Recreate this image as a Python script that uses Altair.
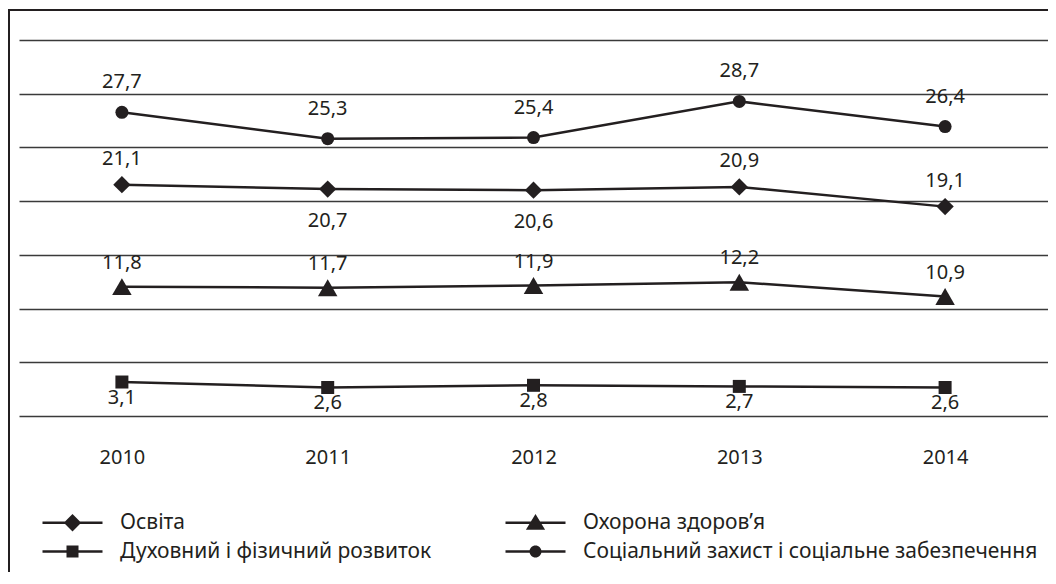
import altair as alt
import pandas as pd

years = [2010, 2011, 2012, 2013, 2014]
series_names = [
    "Освіта",
    "Охорона здоров’я",
    "Духовний і фізичний розвиток",
    "Соціальний захист і соціальне забезпечення",
]
osvita = [21.1, 20.7, 20.6, 20.9, 19.1]
ohorona = [11.8, 11.7, 11.9, 12.2, 10.9]
duhovnyi = [3.1, 2.6, 2.8, 2.7, 2.6]
socialnyi = [27.7, 25.3, 25.4, 28.7, 26.4]

# where each value label sits relative to its point
osvita_side = ["above", "below", "below", "above", "above"]
ohorona_side = ["above"] * 5
duhovnyi_side = ["below"] * 5
socialnyi_side = ["above"] * 5

# hidden value axis: its extent and grid lines
y_domain = [0, 34.3]
grid_values = [0, 4.9, 9.8, 14.7, 19.6, 24.5, 29.4, 34.3]

rows = []
for name, vals, sides in [
    (series_names[0], osvita, osvita_side),
    (series_names[1], ohorona, ohorona_side),
    (series_names[2], duhovnyi, duhovnyi_side),
    (series_names[3], socialnyi, socialnyi_side),
]:
    for yr, v, s in zip(years, vals, sides):
        rows.append({"year": str(yr), "series": name, "value": v, "side": s})
df = pd.DataFrame(rows)

INK = "#231f20"
FONT = "Noto Sans"
W, H = 1029, 376

point_style = {
    series_names[0]: ("diamond", 300),
    series_names[1]: ("triangle-up", 380),
    series_names[2]: ("square", 169),
    series_names[3]: ("circle", 169),
}
# legend glyphs: a short line with the marker in its middle (filled paths),
# drawn at 10 px per path unit
BAR = "M-3,-0.125H3V0.125H-3Z"
legend_paths = [
    BAR + "M0,-0.87L0.87,0L0,0.87L-0.87,0Z",
    BAR + "M0,-0.87L0.96,0.69L-0.96,0.69Z",
    BAR + "M-0.6,-0.6H0.6V0.6H-0.6Z",
    BAR + "M-0.6,0A0.6,0.6,0,1,1,0.6,0A0.6,0.6,0,1,1,-0.6,0Z",
]

base = alt.Chart(df)

x_enc = alt.X(
    "year:O",
    scale=alt.Scale(type="point", padding=0.5),
    axis=alt.Axis(
        title=None, labelAngle=0, domain=False, ticks=False, grid=False,
        labelFont=FONT, labelFontSize=20, labelColor=INK, labelPadding=31,
    ),
)
y_enc = alt.Y(
    "value:Q",
    scale=alt.Scale(domain=y_domain, nice=False, zero=False),
    axis=alt.Axis(
        title=None, labels=False, ticks=False, domain=False, grid=True,
        values=grid_values, gridColor="#3a3a3a", gridWidth=1.4, gridOpacity=1,
    ),
)

lines = base.mark_line(color=INK, strokeWidth=2.5).encode(
    x=x_enc, y=y_enc, detail="series:N"
)

point_layers = []
for name, (shp, sz) in point_style.items():
    point_layers.append(
        base.transform_filter(alt.datum.series == name).mark_point(
            filled=True, color=INK, opacity=1, shape=shp, size=sz
        ).encode(x="year:O", y="value:Q")
    )

legend_layer = base.transform_filter("datum.value < -1000").mark_point(
    filled=True, color=INK, opacity=1
).encode(
    x="year:O",
    y="value:Q",
    shape=alt.Shape(
        "series:N",
        scale=alt.Scale(domain=series_names, range=legend_paths),
        legend=alt.Legend(
            title=None, orient="none", legendX=23, legendY=472,
            direction="horizontal", columns=2, columnPadding=73,
            rowPadding=7, padding=0,
            symbolSize=400, symbolStrokeWidth=0, symbolFillColor=INK,
            symbolOpacity=1, symbolOffset=20,
            labelFont=FONT, labelFontSize=21, labelColor=INK, labelLimit=1000,
            labelOffset=37,
        ),
    ),
)

label_expr = "replace(format(datum.value, '.1f'), '.', ',')"
offsets = {
    (series_names[3], "above"): -30,
    (series_names[0], "above"): -26,
    (series_names[0], "below"): 32,
    (series_names[1], "above"): -24,
    (series_names[2], "below"): 16,
}
text_layers = []
for (name, side), dy in offsets.items():
    text_layers.append(
        base.transform_filter(
            (alt.datum.series == name) & (alt.datum.side == side)
        ).transform_calculate(lbl=label_expr).mark_text(
            font=FONT, fontSize=20, color=INK, dy=dy, baseline="middle"
        ).encode(x="year:O", y="value:Q", text="lbl:N")
    )

top_border = alt.Chart(df).mark_rule(color=INK, strokeWidth=2).encode(
    x=alt.value(-10), x2=alt.value(W + 40), y=alt.value(-30)
)
left_border = alt.Chart(df).mark_rule(color=INK, strokeWidth=2).encode(
    x=alt.value(-10), y=alt.value(-31), y2=alt.value(H + 300)
)

chart = alt.layer(
    lines, *point_layers, legend_layer, *text_layers, top_border, left_border
).properties(
    width=W, height=H,
    autosize=alt.AutoSizeParams(type="none"),
    padding={"left": 11, "top": 32, "right": 0, "bottom": 156},
    background="white",
).configure_view(stroke=None)

chart.save("out.html", embed_options={"renderer": "svg", "actions": False})
